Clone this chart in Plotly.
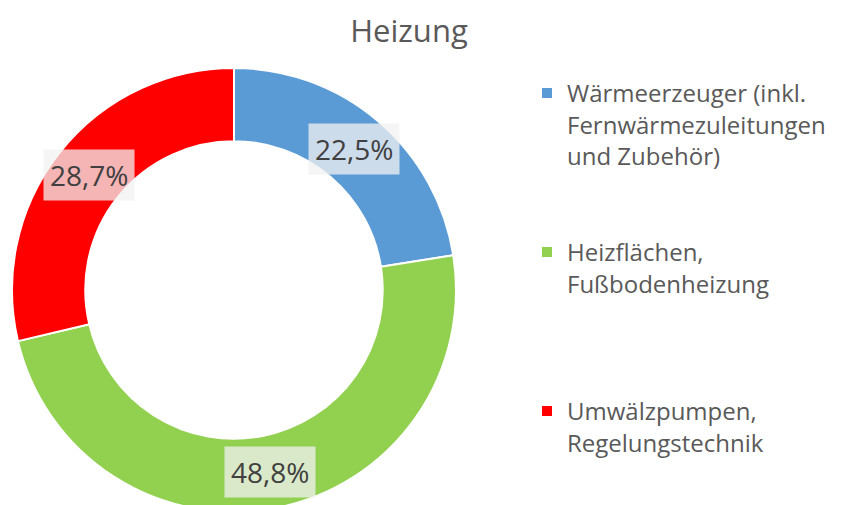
import numpy as np
import plotly.graph_objects as go

title = "Heizung"
categories = [
    "Wärmeerzeuger (inkl.<br>Fernwärmezuleitungen<br>und Zubehör)",
    "Heizflächen,<br>Fußbodenheizung",
    "Umwälzpumpen,<br>Regelungstechnik",
]
# blank lines appended to space the legend entries like the original
legend_pad = [2, 3, 0]
shares = [22.5, 48.8, 28.7]
colors = ["#5B9BD5", "#92D050", "#FF0000"]

W, H = 850, 505
# the page body has an 8px default margin, so everything is laid out 8px up/left
mt, mb = 60, 1
hole = 0.67
dom_x = [0, 452 / W]

labels = [c + "<br> " * p for c, p in zip(categories, legend_pad)]

fig = go.Figure()
fig.add_trace(go.Pie(
    labels=labels,
    values=shares,
    hole=hole,
    sort=False,
    direction="clockwise",
    rotation=0,
    marker=dict(colors=colors, line=dict(color="white", width=2)),
    textinfo="none",
    hoverinfo="none",
    domain=dict(x=dom_x, y=[0, 1]),
))

# data labels in the middle of the ring, placed from the slice angles
plot_h = H - mt - mb
R = min((dom_x[1] - dom_x[0]) * W, plot_h) / 2
cx = (dom_x[0] + dom_x[1]) / 2 * W
rm = R * (1 + hole) / 2
total = sum(shares)
cum = 0
for v in shares:
    ang = np.radians((cum + v / 2) / total * 360)
    cum += v
    fig.add_annotation(
        x=(cx + rm * np.sin(ang)) / W,
        y=0.5 + rm * np.cos(ang) / plot_h,
        xref="paper", yref="paper",
        xanchor="center", yanchor="middle",
        text=f"{v:.1f}%".replace(".", ","),
        showarrow=False,
        font=dict(family="Open Sans", size=28, color="#404040"),
        bgcolor="rgba(242,242,242,0.75)",
        borderpad=6,
    )

fig.update_layout(
    width=W, height=H,
    title=dict(text=title, x=401 / W, xanchor="center", y=1 - 23 / H, yanchor="middle",
               font=dict(family="Open Sans", size=31, color="#595959")),
    legend=dict(x=519 / W, y=1 - 3 / plot_h, xanchor="left", yanchor="top", valign="top",
                font=dict(family="Open Sans", size=24, color="#595959")),
    margin=dict(l=0, r=0, t=mt, b=mb),
    paper_bgcolor="white",
    plot_bgcolor="white",
)

fig.write_html("out.html")
